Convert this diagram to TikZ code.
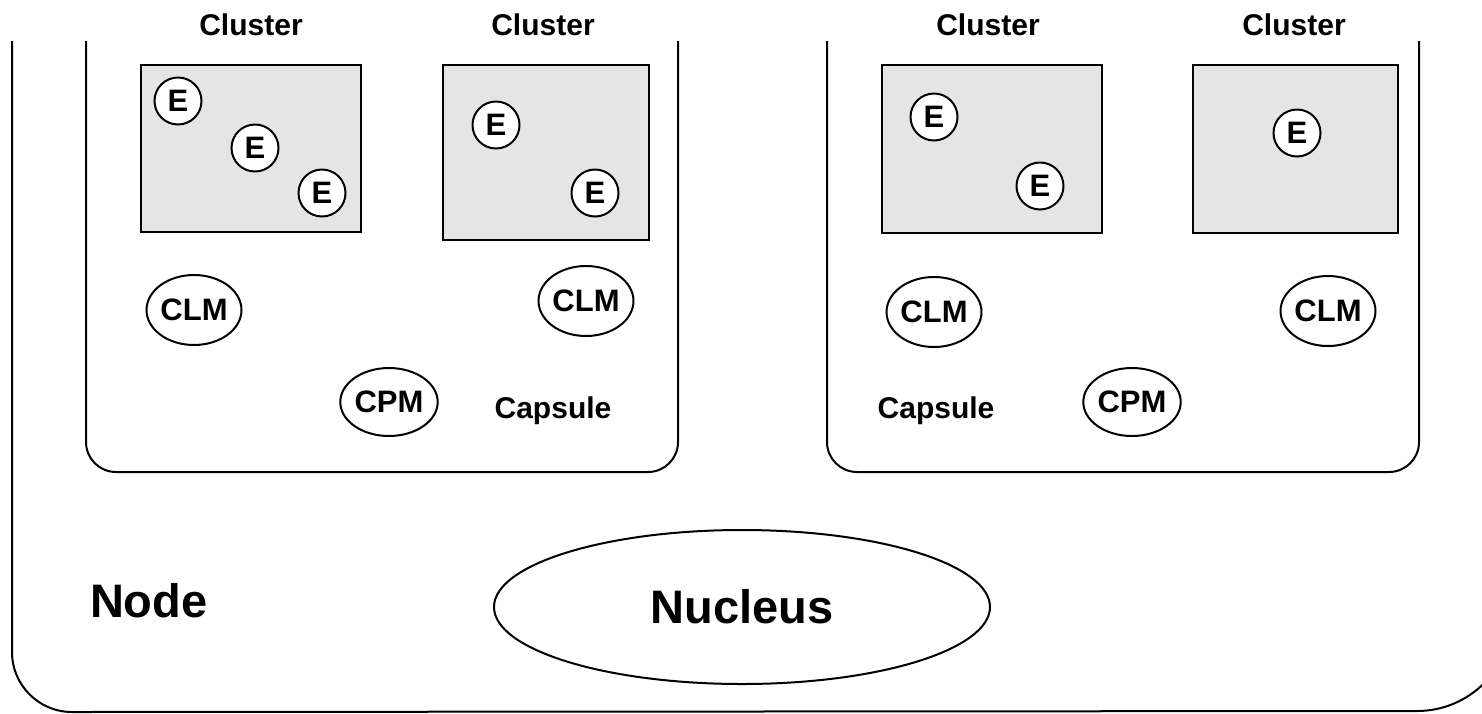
\documentclass[tikz,border=0pt]{standalone}
\usepackage{fontspec}
\setmainfont{Liberation Sans}
\usetikzlibrary{shapes.geometric}
\definecolor{clusterfill}{HTML}{E5E5E5}
\begin{document}
\begin{tikzpicture}[x=1pt,y=-1pt,line width=2pt,
  lbl/.style={font=\fontsize{30}{32}\selectfont\bfseries, inner sep=0pt},
  biglbl/.style={font=\fontsize{47}{48}\selectfont\bfseries, inner sep=0pt},
  clusterbox/.style={draw, fill=clusterfill, anchor=north west, inner sep=0pt},
  enode/.style={circle, draw, fill=white, minimum size=47pt, inner sep=0pt,
    font=\fontsize{31}{31}\selectfont\bfseries},
  mgr/.style={ellipse, draw, fill=white, minimum width=92pt, minimum height=70pt,
    inner sep=0pt, font=\fontsize{31}{31}\selectfont\bfseries},
  nucleus/.style={ellipse, draw, minimum width=496pt, minimum height=154pt,
    inner sep=0pt, font=\fontsize{47}{47}\selectfont\bfseries}]
\useasboundingbox (0,0) rectangle (1482,713);

% outer Node frame
\draw (12,41) -- (12,652) arc[start angle=180,end angle=90,radius=60]
  -- (1417,711) arc[start angle=90,end angle=0,radius=95] -- (1512,41);

% capsules
\draw[rounded corners=30pt] (86,41) -- (86,472) -- (678,472) -- (678,41);
\draw[rounded corners=30pt] (827,41) -- (827,472) -- (1419,472) -- (1419,41);

% cluster boxes
\node[clusterbox, minimum width=220pt, minimum height=167pt] (c1) at (140,64) {};
\node[clusterbox, minimum width=206pt, minimum height=175pt] (c2) at (442,64) {};
\node[clusterbox, minimum width=220pt, minimum height=168pt] (c3) at (881,64) {};
\node[clusterbox, minimum width=205pt, minimum height=168pt] (c4) at (1192,64) {};

% cluster labels
\node[lbl, anchor=base] (l1) at (251,35) {Cluster};
\node[lbl, anchor=base] (l2) at (543,35) {Cluster};
\node[lbl, anchor=base] (l3) at (988,35) {Cluster};
\node[lbl, anchor=base] (l4) at (1294,35) {Cluster};

% entities
\node[enode] (e1) at (178,101) {E};
\node[enode] (e2) at (255,148) {E};
\node[enode] (e3) at (322,193) {E};
\node[enode] (e4) at (496,125) {E};
\node[enode] (e5) at (595,193) {E};
\node[enode] (e6) at (934,117) {E};
\node[enode] (e7) at (1040,186) {E};
\node[enode] (e8) at (1297,133) {E};

% managers
\node[mgr] (clm1) at (194,310) {CLM};
\node[mgr] (clm2) at (586,301) {CLM};
\node[mgr, minimum width=90pt, minimum height=68pt] (cpm1) at (389,402) {CPM};
\node[mgr] (clm3) at (934,312) {CLM};
\node[mgr] (clm4) at (1328,311) {CLM};
\node[mgr, minimum width=90pt, minimum height=68pt] (cpm2) at (1132,402) {CPM};

% capsule labels
\node[lbl, anchor=base] (cap1) at (553,418) {Capsule};
\node[lbl, anchor=base] (cap2) at (936,418) {Capsule};

% node label and nucleus
\node[biglbl, anchor=base west] (nodelbl) at (89,617) {Node};
\node[nucleus] (nuc) at (742,607) {Nucleus};
\end{tikzpicture}
\end{document}
